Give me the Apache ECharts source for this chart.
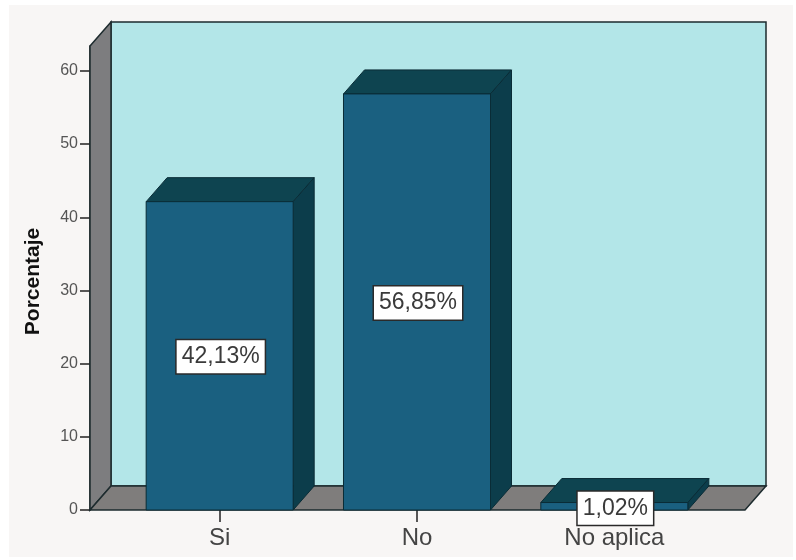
<!DOCTYPE html>
<html><head><meta charset="utf-8">
<style>html,body{margin:0;padding:0;background:#fff}#c{width:796px;height:560px}</style>
<script src="https://cdn.jsdelivr.net/npm/echarts@6/dist/echarts.min.js"></script>
</head><body><div id="c"></div>
<script>
const categories = ['Si', 'No', 'No aplica'];
const percentages = [42.13, 56.85, 1.02];
const percentLabels = ['42,13%', '56,85%', '1,02%'];
const yTicks = [0, 10, 20, 30, 40, 50, 60];
const DX = 21, DY = 24, PADL = 31, PADR = 32;
const font = '"Liberation Sans", Arial, sans-serif';
const chart = echarts.init(document.getElementById('c'));

function poly(points, fill, stroke, lw) {
  return { type: 'polygon', shape: { points }, style: { fill, stroke: stroke || fill, lineWidth: lw === undefined ? 1 : lw } };
}
function renderWalls(params, api) {
  const g = params.coordSys;
  const l = g.x - PADL, r = g.x + g.width + PADR, t = g.y, b = g.y + g.height;
  const e = '#1d2b2e';
  return { type: 'group', children: [
    poly([[l + DX, t - DY], [r + DX, t - DY], [r + DX, b - DY], [l + DX, b - DY]], '#b3e6e8', e, 1.5),
    poly([[l, t], [l + DX, t - DY], [l + DX, b - DY], [l, b]], '#7d7d7f', e, 1.5),
    poly([[l, b], [l + DX, b - DY], [r + DX, b - DY], [r, b]], '#7f7d7c', e, 1.5)
  ]};
}
function renderBar(params, api) {
  const i = api.value(0), v = api.value(1);
  const c = api.coord([i, v]), z = api.coord([i, 0]);
  const w = api.size([1, 0])[0] * 0.745;
  const x0 = c[0] - w / 2, x1 = c[0] + w / 2, yT = c[1], yB = z[1];
  const e = '#0a2c36';
  return { type: 'group', children: [
    poly([[x0, yT], [x0 + DX, yT - DY], [x1 + DX, yT - DY], [x1, yT]], '#0e4450', e),
    poly([[x1, yT], [x1 + DX, yT - DY], [x1 + DX, yB - DY], [x1, yB]], '#0c3d4b', e),
    poly([[x0, yT], [x1, yT], [x1, yB], [x0, yB]], '#1a6080', e)
  ]};
}
function renderLabel(params, api) {
  const i = api.value(0), v = api.value(1);
  const c = api.coord([i, v / 2]);
  return { type: 'text', x: c[0] + 1, y: c[1] + (v < 5 ? 2 : 1), z2: 50, style: {
    text: percentLabels[i], font: '23px ' + font, fill: '#3a3a3a', align: 'center', verticalAlign: 'middle',
    backgroundColor: '#ffffff', borderColor: '#2a2a2a', borderWidth: 1.5, padding: [7, 5, 3, 5]
  }};
}
const rows = categories.map((c, i) => [i, percentages[i]]);
chart.setOption({
  animation: false,
  backgroundColor: '#ffffff',
  graphic: [{ type: 'rect', z: -10, silent: true, shape: { x: 9, y: 5, width: 784, height: 552 }, style: { fill: '#f8f6f5' } }],
  grid: { left: 121, width: 592, top: 46, height: 464 },
  xAxis: { type: 'category', data: categories, z: 1,
    axisLine: { show: false },
    axisTick: { show: true, alignWithLabel: true, length: 12, lineStyle: { color: '#222', width: 1.5 } },
    axisLabel: { fontFamily: font, fontSize: 24, color: '#444', margin: 16 },
    splitLine: { show: false } },
  yAxis: { type: 'value', min: 0, max: 63.4, offset: 31,
    name: 'Porcentaje', nameLocation: 'middle', nameGap: 46,
    nameTextStyle: { fontFamily: font, fontSize: 21, fontWeight: 'bold', color: '#111', padding: [0, 7, 0, 0] },
    axisLine: { show: true, lineStyle: { color: '#222', width: 1.5 } },
    axisTick: { show: true, length: 10, customValues: yTicks, lineStyle: { color: '#222', width: 1.5 } },
    axisLabel: { fontFamily: font, fontSize: 16, color: '#555', margin: 12, customValues: yTicks },
    splitLine: { show: false } },
  series: [
    { type: 'custom', z: 1, silent: true, renderItem: renderWalls, data: [[0, 0]], encode: { x: 0, y: 1 }, clip: false },
    { type: 'custom', z: 3, silent: true, renderItem: renderBar, data: rows, encode: { x: 0, y: 1 }, clip: false },
    { type: 'custom', z: 5, silent: true, renderItem: renderLabel, data: rows, encode: { x: 0, y: 1 }, clip: false }
  ]
});
</script></body></html>
